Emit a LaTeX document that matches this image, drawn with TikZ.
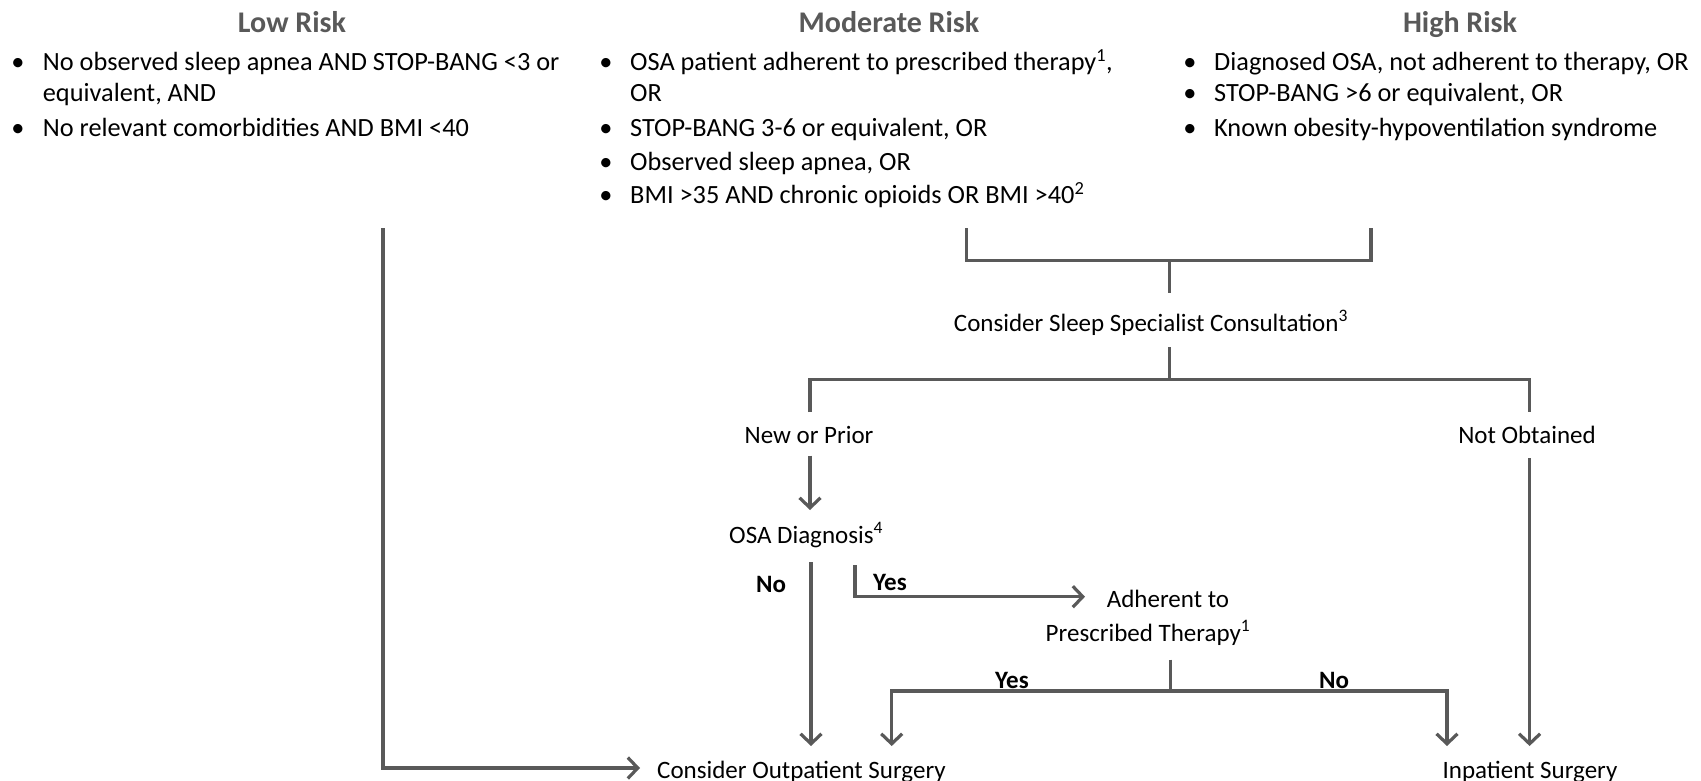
\documentclass[tikz,border=0pt]{standalone}
\usepackage{fontspec}
\setmainfont{Carlito}
\usetikzlibrary{arrows.meta}
\definecolor{lg}{HTML}{595959}
\tikzset{
  conn/.style={draw=lg, line width=3.2pt},
  arr/.style={conn, -{Straight Barb[length=10pt,width=21pt]}},
  title/.style={font=\fontsize{30}{32}\selectfont\bfseries, text=lg, inner sep=0pt, anchor=base},
  body/.style={font=\fontsize{26.3}{30}\selectfont, inner sep=0pt, anchor=base west},
  bul/.style={font=\fontsize{26.3}{30}\selectfont, inner sep=0pt, anchor=base},
  flow/.style={font=\fontsize{25}{28}\selectfont, inner sep=0pt, anchor=base},
  lbl/.style={font=\fontsize{25}{28}\selectfont\bfseries, inner sep=0pt, anchor=base},
}
\begin{document}
\begin{tikzpicture}[x=1pt,y=-1pt]
\useasboundingbox (0,0) rectangle (1701,781);
% titles
\node[title] (tlow) at (292,33) {Low Risk};
\node[title] (tmod) at (889,33) {Moderate Risk};
\node[title] (thigh) at (1460,33) {High Risk};
% low risk
\node[bul] (bl1) at (18,70.7) {\textbullet};
\node[body] (l1a) at (42.7,70.7) {No observed sleep apnea AND STOP-BANG <3 or};
\node[body] (l1b) at (42.7,101.5) {equivalent, AND};
\node[bul] (bl2) at (18,136.5) {\textbullet};
\node[body] (l2) at (42.7,136.5) {No relevant comorbidities AND BMI <40};
% moderate risk
\node[bul] (bm1) at (606,70.7) {\textbullet};
\node[body] (m1a) at (630,70.7) {OSA patient adherent to prescribed therapy\textsuperscript{1},};
\node[body] (m1b) at (630,101.5) {OR};
\node[bul] (bm2) at (606,136.5) {\textbullet};
\node[body] (m2) at (630,136.5) {STOP-BANG 3-6 or equivalent, OR};
\node[bul] (bm3) at (606,170.5) {\textbullet};
\node[body] (m3) at (630,170.5) {Observed sleep apnea, OR};
\node[bul] (bm4) at (606,204) {\textbullet};
\node[body] (m4) at (630,204) {BMI >35 AND chronic opioids OR BMI >40\textsuperscript{2}};
% high risk
\node[bul] (bh1) at (1190,70.7) {\textbullet};
\node[body] (h1) at (1214,70.7) {Diagnosed OSA, not adherent to therapy, OR};
\node[bul] (bh2) at (1190,101.5) {\textbullet};
\node[body] (h2) at (1214,101.5) {STOP-BANG >6 or equivalent, OR};
\node[bul] (bh3) at (1190,136.5) {\textbullet};
\node[body] (h3) at (1214,136.5) {Known obesity-hypoventilation syndrome};
% flow nodes
\node[flow] (consult) at (1151,331) {Consider Sleep Specialist Consultation\textsuperscript{3}};
\node[flow] (newprior) at (809,443) {New or Prior};
\node[flow] (notobt) at (1527,443) {Not Obtained};
\node[flow,anchor=base west] (osa) at (729,543) {OSA Diagnosis\textsuperscript{4}};
\node[lbl] (no1) at (771,592) {No};
\node[lbl] (yes1) at (890,590) {Yes};
\node[flow] (adh1) at (1168,607) {Adherent to};
\node[flow] (adh2) at (1148,641) {Prescribed Therapy\textsuperscript{1}};
\node[lbl] (yes2) at (1012,688) {Yes};
\node[lbl] (no2) at (1334,688) {No};
\node[flow,anchor=base west] (outp) at (657,778) {Consider Outpatient Surgery};
\node[flow] (inp) at (1530,778) {Inpatient Surgery};
% coordinates
\coordinate (lowtop) at (383,228);
\coordinate (lowend) at (640,768);
\coordinate (modtop) at (966.5,228);
\coordinate (hightop) at (1371,228);
\coordinate (j1) at (1169.5,260.4);
\coordinate (j1b) at (1169.5,293);
\coordinate (j2a) at (1169.5,347);
\coordinate (j2) at (1169.5,379.7);
\coordinate (npbar) at (810,412);
\coordinate (nobar) at (1529.6,412);
\coordinate (npA) at (810,455.6);
\coordinate (npB) at (810,510);
\coordinate (noA) at (811,562);
\coordinate (noB) at (811,746);
\coordinate (yesA) at (855,565);
\coordinate (yesB) at (1085,596.7);
\coordinate (j3a) at (1170.5,659.6);
\coordinate (j3) at (1170.5,691);
\coordinate (y2) at (891.7,746);
\coordinate (n2) at (1447,746);
\coordinate (obA) at (1529.6,458);
\coordinate (obB) at (1529.6,746);
% connectors
\draw[arr] (lowtop) |- (lowend);
\draw[conn] (modtop) |- (j1) -| (hightop);
\draw[conn] (j1) -- (j1b);
\draw[conn] (j2a) -- (j2);
\draw[conn] (npbar) |- (j2) -| (nobar);
\draw[arr] (npA) -- (npB);
\draw[arr] (noA) -- (noB);
\draw[arr] (yesA) |- (yesB);
\draw[conn] (j3a) -- (j3);
\draw[arr] (j3) -| (y2);
\draw[arr] (j3) -| (n2);
\draw[arr] (obA) -- (obB);
\end{tikzpicture}
\end{document}
